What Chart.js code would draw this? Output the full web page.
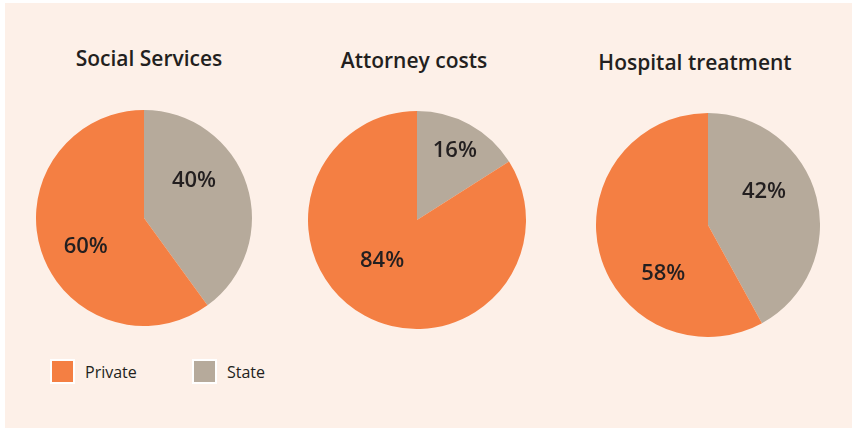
<!DOCTYPE html>
<html>
<head>
<meta charset="utf-8">
<script src="https://cdn.jsdelivr.net/npm/chart.js@4"></script>
<style>
  html, body { margin: 0; padding: 0; background: #ffffff; }
  #wrap { position: absolute; left: 5px; top: 3px; width: 847px; height: 425px; background: #fdf0e8; }
  .title { position: absolute; font-family: "Open Sans", sans-serif; font-weight: 600; font-size: 21px; color: #231f20; line-height: 24px; white-space: nowrap; transform: translateX(-50%); }
  .pie { position: absolute; }
  .legend { position: absolute; top: 356px; font-family: "Open Sans", sans-serif; font-size: 16px; color: #231f20; display: flex; align-items: center; }
  .sw { width: 21px; height: 21px; border: 2px solid #ffffff; margin-right: 10px; }
</style>
</head>
<body>
<div id="wrap"></div>
<script>
const titles = ['Social Services', 'Attorney costs', 'Hospital treatment'];
const categories = ['State', 'Private'];
const stateShare = [40, 16, 42];
const privateShare = [60, 84, 58];
const colors = ['#b6aa9b', '#f47f43'];

// layout of each panel in px (relative to wrap); label shift in degrees, radius as share of pie radius
const panels = [
  { cx: 139, cy: 215, size: 216, titleX: 144, titleY: 43, shift: [-19, -8], rad: [0.58, 0.60] },
  { cx: 412, cy: 217, size: 218, titleX: 409, titleY: 45, shift: [0, 12], rad: [0.72, 0.49] },
  { cx: 703, cy: 222, size: 224, titleX: 690, titleY: 47, shift: [-16, -33], rad: [0.58, 0.59] }
];

const wrap = document.getElementById('wrap');

const pctLabels = {
  id: 'pctLabels',
  afterDatasetsDraw(chart, args, opts) {
    const ctx = chart.ctx;
    const meta = chart.getDatasetMeta(0);
    ctx.save();
    ctx.font = '600 22px "Open Sans", sans-serif';
    ctx.fillStyle = '#231f20';
    ctx.textAlign = 'center';
    ctx.textBaseline = 'middle';
    meta.data.forEach((arc, i) => {
      const p = arc.getProps(['x', 'y', 'startAngle', 'endAngle', 'outerRadius'], true);
      const mid = (p.startAngle + p.endAngle) / 2 + opts.shift[i] * Math.PI / 180;
      const r = p.outerRadius * opts.rad[i];
      ctx.fillText(chart.data.datasets[0].data[i] + '%', p.x + Math.cos(mid) * r, p.y + Math.sin(mid) * r);
    });
    ctx.restore();
  }
};

titles.forEach((t, i) => {
  const p = panels[i];
  const title = document.createElement('div');
  title.className = 'title';
  title.textContent = t;
  title.style.left = p.titleX + 'px';
  title.style.top = p.titleY + 'px';
  wrap.appendChild(title);

  const box = document.createElement('div');
  box.className = 'pie';
  box.style.left = (p.cx - p.size / 2) + 'px';
  box.style.top = (p.cy - p.size / 2) + 'px';
  box.style.width = p.size + 'px';
  box.style.height = p.size + 'px';
  const canvas = document.createElement('canvas');
  box.appendChild(canvas);
  wrap.appendChild(box);

  new Chart(canvas, {
    type: 'pie',
    data: {
      labels: categories,
      datasets: [{
        data: [stateShare[i], privateShare[i]],
        backgroundColor: colors,
        borderWidth: 0
      }]
    },
    options: {
      responsive: true,
      maintainAspectRatio: false,
      animation: false,
      layout: { padding: 0 },
      plugins: {
        legend: { display: false },
        tooltip: { enabled: false },
        pctLabels: { shift: p.shift, rad: p.rad }
      }
    },
    plugins: [pctLabels]
  });
});

// legend
[['Private', colors[1], 45], ['State', colors[0], 187]].forEach(([name, col, x]) => {
  const item = document.createElement('div');
  item.className = 'legend';
  item.style.left = x + 'px';
  const sw = document.createElement('div');
  sw.className = 'sw';
  sw.style.background = col;
  const label = document.createElement('span');
  label.textContent = name;
  item.appendChild(sw);
  item.appendChild(label);
  wrap.appendChild(item);
});
</script>
</body>
</html>
